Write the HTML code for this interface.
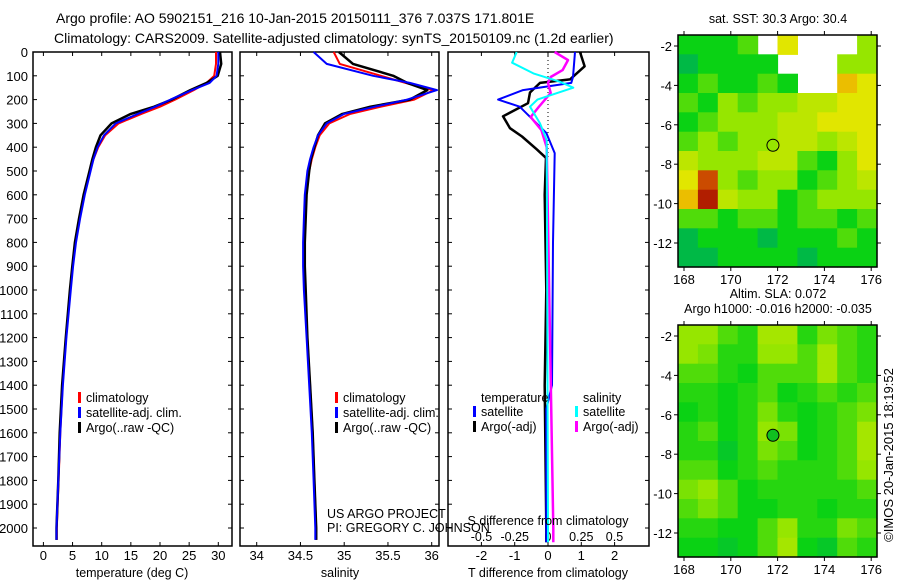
<!DOCTYPE html>
<html><head><meta charset="utf-8">
<style>
html,body{margin:0;padding:0;background:#fff;}
svg{display:block;font-family:"Liberation Sans",sans-serif;}
text{fill:#000;}
</style></head>
<body>
<svg id="fig" width="900" height="580" viewBox="0 0 900 580" xmlns="http://www.w3.org/2000/svg">
<text x="56" y="23" font-size="14">Argo profile: AO 5902151_216 10-Jan-2015 20150111_376 7.037S 171.801E</text>
<text x="54" y="43" font-size="14">Climatology: CARS2009. Satellite-adjusted climatology: synTS_20150109.nc (1.2d earlier)</text>
<g id="p1"></g>
<g id="p2"></g>
<g id="p3"></g>
<g id="m1"></g>
<g id="m2"></g>
<text transform="translate(893,455) rotate(-90)" text-anchor="middle" font-size="13">©IMOS 20-Jan-2015 18:19:52</text>
</svg>
<script>
const depths=[0,50,100,130,160,200,230,260,300,350,400,450,500,600,700,800,900,1000,1200,1400,1600,1800,2000,2050];
const climT=[29.6,29.6,29.3,28.0,25.8,22.6,20.0,16.8,12.9,10.6,9.4,8.6,8.0,7.0,6.2,5.5,5.0,4.6,3.9,3.3,2.9,2.6,2.3,2.3];
const satT=[30.0,30.0,29.7,28.5,25.5,21.8,19.2,16.2,12.4,10.4,9.3,8.6,8.1,7.1,6.3,5.6,5.1,4.7,3.95,3.35,2.9,2.55,2.25,2.25];
const argoT=[30.3,30.5,29.9,28.0,25.2,22.0,19.0,15.0,11.7,9.8,9.0,8.4,7.9,6.9,6.1,5.4,4.95,4.55,3.85,3.2,2.8,2.55,2.25,2.25];
const climS=[34.88,34.95,35.42,35.7,36.02,35.8,35.42,35.07,34.83,34.72,34.67,34.63,34.6,34.56,34.55,34.54,34.54,34.55,34.58,34.61,34.64,34.66,34.68,34.68];
const satS=[34.65,34.8,35.33,35.75,36.06,35.72,35.35,35.0,34.8,34.7,34.65,34.61,34.58,34.55,34.54,34.53,34.53,34.54,34.57,34.6,34.63,34.65,34.67,34.67];
const argoS=[34.94,35.1,35.56,35.72,35.95,35.75,35.3,34.98,34.78,34.7,34.66,34.62,34.6,34.57,34.56,34.55,34.55,34.56,34.58,34.61,34.64,34.66,34.68,34.68];
const dTargoDepth=[0,60,115,130,170,215,270,320,355,410,445,600,1000,1400,2000,2060];
const dTargo=[0.96,1.1,0.66,-0.24,-0.54,-0.6,-1.35,-1.14,-0.78,-0.33,-0.06,-0.1,-0.05,-0.1,-0.05,-0.05];
const dTsatDepth=[0,105,130,160,200,230,285,340,425,800,1400,1500,2000,2060];
const dTsat=[0.81,0.75,0.7,-0.75,-1.5,-0.85,-0.45,-0.05,0.2,0.15,0.12,-0.05,-0.05,-0.05];
const dSsatDepth=[0,45,90,125,150,200,230,300,370,2000,2060];
const dSsat=[-0.235,-0.27,-0.11,0.09,0.19,-0.08,-0.135,-0.06,-0.01,0.0,0.0];
const dSargoDepth=[0,34,76,105,130,172,231,273,328,400,2000,2060];
const dSargo=[0.05,0.15,0.11,0.02,0.0,0.02,-0.07,-0.13,-0.05,-0.01,0.04,0.04];
const depthTicks=[0,100,200,300,400,500,600,700,800,900,1000,1100,1200,1300,1400,1500,1600,1700,1800,1900,2000];
const tTicks=[0,5,10,15,20,25,30];
const sTicks=[34,34.5,35,35.5,36];
const sTickLabels=["34","34.5","35","35.5","36"];
const dtTicks=[-2,-1,0,1,2];
const dsTicks=[-0.5,-0.25,0,0.25,0.5];
const dsTickLabels=["-0.5","-0.25","0","0.25","0.5"];
const lonTicks=[168,170,172,174,176];
const latTicks=[-2,-4,-6,-8,-10,-12];
const sstGrid=[
[0.5,0.5,0.5,0.55,null,0.7,null,null,null,0.6],
[0.45,0.5,0.5,0.5,0.5,null,null,null,0.6,0.6],
[0.5,0.55,0.5,0.5,0.55,0.5,null,null,0.75,0.7],
[0.55,0.5,0.6,0.55,0.6,0.6,0.65,0.65,0.7,0.7],
[0.5,0.55,0.6,0.6,0.6,0.65,0.65,0.7,0.7,0.7],
[0.55,0.6,0.55,0.6,0.6,0.65,0.65,0.6,0.65,0.7],
[0.65,0.6,0.6,0.6,0.65,0.65,0.55,0.5,0.6,0.7],
[0.7,0.85,0.6,0.55,0.6,0.6,0.5,0.55,0.6,0.65],
[0.75,0.88,0.65,0.6,0.6,0.5,0.55,0.6,0.6,0.6],
[0.55,0.55,0.5,0.55,0.55,0.5,0.55,0.55,0.5,0.55],
[0.45,0.5,0.5,0.5,0.45,0.5,0.5,0.5,0.55,0.5],
[0.45,0.45,0.5,0.5,0.5,0.5,0.45,0.5,0.5,0.5]];
const slaGrid=[
[0.6,0.6,0.55,0.52,0.62,0.62,0.52,0.58,0.55,0.52],
[0.6,0.58,0.52,0.52,0.6,0.6,0.55,0.62,0.55,0.52],
[0.55,0.55,0.52,0.5,0.55,0.55,0.55,0.62,0.55,0.52],
[0.52,0.52,0.5,0.52,0.55,0.5,0.52,0.55,0.52,0.55],
[0.5,0.52,0.5,0.52,0.58,0.52,0.5,0.52,0.55,0.58],
[0.52,0.55,0.5,0.52,0.6,0.58,0.5,0.52,0.55,0.62],
[0.52,0.52,0.48,0.52,0.58,0.55,0.5,0.52,0.55,0.62],
[0.55,0.55,0.5,0.52,0.55,0.52,0.52,0.52,0.55,0.6],
[0.58,0.6,0.55,0.5,0.52,0.52,0.52,0.52,0.52,0.55],
[0.55,0.58,0.55,0.5,0.5,0.52,0.52,0.5,0.52,0.52],
[0.52,0.52,0.5,0.5,0.55,0.6,0.52,0.52,0.58,0.55],
[0.5,0.5,0.48,0.5,0.55,0.62,0.5,0.48,0.55,0.52]];
const argoLon=171.801, argoLat=-7.037;

const NS="http://www.w3.org/2000/svg";
function mk(parent,tag,attrs){const e=document.createElementNS(NS,tag);for(const k in attrs)e.setAttribute(k,attrs[k]);parent.appendChild(e);return e;}
const TOP=52,BOT=546;
const yD=d=>TOP+d*0.238;

function frame(g,x0,x1,yticks,labels){
  const r=mk(g,'rect',{x:x0,y:TOP,width:x1-x0,height:BOT-TOP,fill:'none',stroke:'#000','stroke-width':1.5});
  
  
  depthTicks.forEach(d=>{
    const y=yD(d);
    mk(g,'line',{x1:x0,x2:x0+4,y1:y,y2:y,stroke:'#000'});
    mk(g,'line',{x1:x1-4,x2:x1,y1:y,y2:y,stroke:'#000'});
    if(labels){const t=mk(g,'text',{x:x0-5,y:y+5,'text-anchor':'end','font-size':13});t.textContent=d;
      
      }
  });
}
function xticks(g,vals,labs,fx,ly,top){
  vals.forEach((v,i)=>{const x=fx(v);
    mk(g,'line',{x1:x,x2:x,y1:BOT,y2:BOT-4,stroke:'#000'});
    if(top)mk(g,'line',{x1:x,x2:x,y1:TOP,y2:TOP+4,stroke:'#000'});
    const t=mk(g,'text',{x:x,y:ly,'text-anchor':'middle','font-size':13});t.textContent=labs[i];
    
    
  });
}
function line(g,ds,vs,fx,col,w,name){
  const pts=ds.map((d,i)=>fx(vs[i]).toFixed(1)+','+yD(d).toFixed(1)).join(' ');
  const p=mk(g,'polyline',{points:pts,fill:'none',stroke:col,'stroke-width':w,'stroke-linejoin':'round'});
  
  
}
function label(g,x,y,s,txt,anchor,name){const t=mk(g,'text',{x:x,y:y,'font-size':s,'text-anchor':anchor||'start'});t.textContent=txt;
  
  return t;}
function legend(g,x,y,items){
  items.forEach((it,i)=>{const yy=y+i*15;
    const b=mk(g,'rect',{x:x,y:yy-10,width:3,height:11,fill:it[1]});
    
    
    label(g,x+8,yy,12.5,it[0],'start','legend-entry');
  });
}

// Panel 1
const p1=document.getElementById('p1');
const fT=v=>43.4+v*5.83;
frame(p1,33,232,depthTicks,true);
xticks(p1,tTicks,tTicks.map(String),fT,560,true);
line(p1,depths,climT,fT,'#f00',2,'temperature-climatology-line');
line(p1,depths,argoT,fT,'#000',2.5,'temperature-argo-line');
line(p1,depths,satT,fT,'#00f',2,'temperature-satellite-line');
label(p1,132,577,12.5,'temperature (deg C)','middle','x-axis-title');
legend(p1,78,402,[['climatology','#f00'],['satellite-adj. clim.','#00f'],['Argo(..raw -QC)','#000']]);

// Panel 2
const p2=document.getElementById('p2');
const fS=v=>256.7+(v-34)*87.5;
frame(p2,240,439,depthTicks,false);
xticks(p2,sTicks,sTickLabels,fS,560,true);
line(p2,depths,climS,fS,'#f00',2,'salinity-climatology-line');
line(p2,depths,argoS,fS,'#000',2.5,'salinity-argo-line');
line(p2,depths,satS,fS,'#00f',2,'salinity-satellite-line');
label(p2,340,577,12.5,'salinity','middle','x-axis-title');
legend(p2,335,402,[['climatology','#f00'],['satellite-adj. clim.','#00f'],['Argo(..raw -QC)','#000']]);
label(p2,327,518,12.5,'US ARGO PROJECT','start','project-label');
label(p2,327,532,12.5,'PI: GREGORY C. JOHNSON','start','pi-label');

// Panel 3
const p3=document.getElementById('p3');
const fDT=v=>548+v*33.3;
const fDS=v=>548+v*133;
frame(p3,448,649,depthTicks,false);
xticks(p3,dtTicks,dtTicks.map(String),fDT,560,true);
dsTicks.forEach((v,i)=>{label(p3,fDS(v),541,12.5,dsTickLabels[i],'middle','s-tick-label');});
const zl=mk(p3,'line',{x1:fDT(0),x2:fDT(0),y1:TOP,y2:yD(450),stroke:'#000','stroke-dasharray':'1,3'});


line(p3,dTargoDepth,dTargo,fDT,'#000',2.5,'t-diff-argo-line');
line(p3,dTsatDepth,dTsat,fDT,'#00f',2,'t-diff-satellite-line');
line(p3,dSargoDepth,dSargo,fDS,'#f0f',2.5,'s-diff-argo-line');
line(p3,dSsatDepth,dSsat,fDS,'#0ff',2,'s-diff-satellite-line');
label(p3,548,525,12.5,'S difference from climatology','middle','s-axis-title');
label(p3,548,577,12.5,'T difference from climatology','middle','t-axis-title');
label(p3,481,402,12.5,'temperature','start','legend-title-temperature');
label(p3,583,402,12.5,'salinity','start','legend-title-salinity');
legend(p3,473,416,[['satellite','#00f'],['Argo(-adj)','#000']]);
legend(p3,575,416,[['satellite','#0ff'],['Argo(-adj)','#f0f']]);

// Maps
function cmap(v){
  const st=[[0.25,[0,80,220]],[0.35,[0,170,200]],[0.45,[0,185,70]],[0.5,[10,210,20]],[0.6,[150,230,0]],[0.7,[225,230,0]],[0.8,[245,150,0]],[0.9,[160,0,0]]];
  if(v<=st[0][0])return 'rgb('+st[0][1]+')';
  for(let i=1;i<st.length;i++){if(v<=st[i][0]){const a=st[i-1],b=st[i],t=(v-a[0])/(b[0]-a[0]);
    return 'rgb('+a[1].map((c,k)=>Math.round(c+(b[1][k]-c)*t)).join(',')+')';}}
  return 'rgb('+st[st.length-1][1]+')';
}
const MX0=678,MX1=877;
const fLon=v=>684+(v-168)*23.4;
function map(g,grid,oy,title1,title2,circFill){
  const fLat=v=>oy+46+(-2-v)*19.7;
  const top=oy+35,bot=oy+267;
  const rows=grid.length,cols=grid[0].length,cw=(MX1-MX0)/cols,ch=(bot-top)/rows;
  mk(g,'rect',{x:MX0,y:top,width:MX1-MX0,height:bot-top,fill:'#fff'});
  grid.forEach((row,r)=>row.forEach((v,c)=>{
    if(v===null)return;
    const cell=mk(g,'rect',{x:(MX0+c*cw).toFixed(1),y:(top+r*ch).toFixed(1),width:(cw+0.6).toFixed(1),height:(ch+0.6).toFixed(1),fill:cmap(v)});
    
    
  }));
  const fr=mk(g,'rect',{x:MX0,y:top,width:MX1-MX0,height:bot-top,fill:'none',stroke:'#000','stroke-width':1.5});
  
  
  lonTicks.forEach(v=>{const x=fLon(v);
    mk(g,'line',{x1:x,x2:x,y1:top,y2:top-4,stroke:'#000'});
    mk(g,'line',{x1:x,x2:x,y1:bot,y2:bot+4,stroke:'#000'});
    label(g,x,bot+17,13,String(v),'middle','lon-tick-label');});
  latTicks.forEach(v=>{const y=fLat(v);
    mk(g,'line',{x1:MX0,x2:MX0-4,y1:y,y2:y,stroke:'#000'});
    mk(g,'line',{x1:MX1,x2:MX1+4,y1:y,y2:y,stroke:'#000'});
    label(g,MX0-6,y+5,13,String(v),'end','lat-tick-label');});
  const c=mk(g,'circle',{cx:fLon(argoLon),cy:fLat(argoLat),r:6,fill:circFill,stroke:'#000','stroke-width':1});
  
  
  if(title1)label(g,778,oy+23,12.5,title1,'middle','map-title');
  if(title2)label(g,778,oy+8,12.5,title2,'middle','map-title-line-1');
}
map(document.getElementById('m1'),sstGrid,0,'sat. SST: 30.3 Argo: 30.4',null,'none');
map(document.getElementById('m2'),slaGrid,290,'Argo h1000: -0.016 h2000: -0.035','Altim. SLA: 0.072','#10c020');
</script>
</body></html>
